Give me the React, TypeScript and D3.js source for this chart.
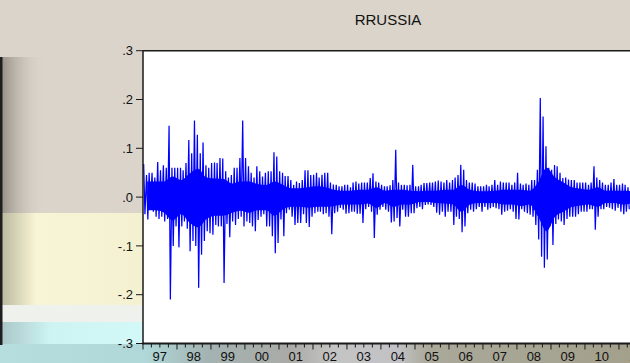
import * as d3 from "d3";

const title = "RRUSSIA";
const startYear = 1997;

// monthly extremes of the daily return series (Jan 1997 .. Apr 2011)
const highs = [
  0.068, 0.045, 0.05, 0.05, 0.04, 0.072, 0.055, 0.065, 0.06, 0.146, 0.06, 0.06, // 1997
  0.06, 0.06, 0.055, 0.07, 0.117, 0.09, 0.157, 0.128, 0.09, 0.112, 0.065, 0.06, // 1998
  0.07, 0.071, 0.07, 0.08, 0.079, 0.053, 0.04, 0.045, 0.06, 0.06, 0.08, 0.157, // 1999
  0.08, 0.063, 0.05, 0.04, 0.063, 0.053, 0.042, 0.05, 0.053, 0.053, 0.092, 0.083, // 2000
  0.053, 0.05, 0.043, 0.043, 0.035, 0.025, 0.032, 0.029, 0.035, 0.055, 0.055, 0.045, // 2001
  0.046, 0.05, 0.04, 0.046, 0.05, 0.05, 0.03, 0.026, 0.025, 0.022, 0.022, 0.025, // 2002
  0.025, 0.02, 0.03, 0.032, 0.028, 0.03, 0.03, 0.03, 0.039, 0.049, 0.032, 0.03, // 2003
  0.025, 0.022, 0.022, 0.024, 0.035, 0.097, 0.03, 0.025, 0.025, 0.024, 0.025, 0.066, // 2004
  0.022, 0.022, 0.025, 0.029, 0.029, 0.03, 0.03, 0.032, 0.034, 0.032, 0.03, 0.035, // 2005
  0.03, 0.035, 0.04, 0.045, 0.066, 0.056, 0.035, 0.03, 0.03, 0.028, 0.022, 0.022, // 2006
  0.022, 0.025, 0.022, 0.025, 0.035, 0.025, 0.032, 0.03, 0.03, 0.03, 0.025, 0.03, // 2007
  0.05, 0.028, 0.025, 0.028, 0.025, 0.035, 0.035, 0.056, 0.203, 0.165, 0.104, 0.06, // 2008
  0.056, 0.066, 0.063, 0.05, 0.039, 0.04, 0.036, 0.035, 0.035, 0.03, 0.03, 0.03, // 2009
  0.03, 0.025, 0.03, 0.063, 0.04, 0.035, 0.03, 0.025, 0.025, 0.03, 0.037, 0.025, // 2010
  0.025, 0.028, 0.025, 0.02, // 2011
];

const lows = [
  -0.035, -0.046, -0.025, -0.03, -0.04, -0.045, -0.04, -0.05, -0.045, -0.21, -0.1, -0.06,
  -0.103, -0.06, -0.05, -0.065, -0.111, -0.09, -0.1, -0.186, -0.118, -0.09, -0.07, -0.074,
  -0.077, -0.057, -0.06, -0.06, -0.176, -0.055, -0.082, -0.05, -0.057, -0.045, -0.04, -0.06,
  -0.05, -0.053, -0.06, -0.07, -0.047, -0.04, -0.035, -0.06, -0.06, -0.08, -0.115, -0.094,
  -0.046, -0.08, -0.033, -0.026, -0.04, -0.057, -0.053, -0.053, -0.035, -0.053, -0.061, -0.04,
  -0.033, -0.03, -0.03, -0.035, -0.033, -0.04, -0.076, -0.033, -0.03, -0.022, -0.026, -0.034,
  -0.033, -0.03, -0.03, -0.034, -0.034, -0.053, -0.025, -0.02, -0.03, -0.084, -0.036, -0.026,
  -0.02, -0.026, -0.03, -0.052, -0.05, -0.043, -0.06, -0.026, -0.04, -0.04, -0.033, -0.033,
  -0.023, -0.02, -0.025, -0.016, -0.015, -0.016, -0.02, -0.032, -0.036, -0.03, -0.04, -0.03,
  -0.03, -0.057, -0.04, -0.045, -0.072, -0.06, -0.033, -0.026, -0.03, -0.025, -0.02, -0.03,
  -0.02, -0.026, -0.023, -0.02, -0.023, -0.025, -0.036, -0.03, -0.028, -0.025, -0.03, -0.045,
  -0.046, -0.025, -0.03, -0.033, -0.036, -0.04, -0.057, -0.087, -0.122, -0.145, -0.128, -0.06,
  -0.098, -0.055, -0.046, -0.05, -0.057, -0.045, -0.04, -0.04, -0.04, -0.035, -0.03, -0.03,
  -0.03, -0.025, -0.025, -0.067, -0.04, -0.025, -0.025, -0.02, -0.022, -0.025, -0.028, -0.022,
  -0.03, -0.035, -0.03, -0.025,
];

// dense, solid part of the trace per quarter (1997Q1 .. 2011Q2)
const coreHigh = [
  0.032, 0.032, 0.032, 0.042,
  0.035, 0.048, 0.058, 0.04,
  0.038, 0.037, 0.028, 0.032,
  0.032, 0.027, 0.025, 0.032,
  0.025, 0.018, 0.018, 0.02,
  0.022, 0.02, 0.015, 0.013,
  0.013, 0.015, 0.015, 0.02,
  0.013, 0.015, 0.015, 0.013,
  0.012, 0.013, 0.013, 0.015,
  0.015, 0.025, 0.015, 0.012,
  0.012, 0.013, 0.015, 0.015,
  0.015, 0.013, 0.03, 0.06,
  0.04, 0.03, 0.02, 0.017,
  0.015, 0.02, 0.013, 0.013,
  0.013, 0.012,
];
const coreLow = [
  -0.027, -0.027, -0.032, -0.048,
  -0.035, -0.052, -0.062, -0.045,
  -0.038, -0.038, -0.032, -0.028,
  -0.032, -0.027, -0.027, -0.038,
  -0.025, -0.02, -0.02, -0.022,
  -0.02, -0.02, -0.018, -0.015,
  -0.015, -0.015, -0.013, -0.022,
  -0.012, -0.02, -0.015, -0.015,
  -0.01, -0.01, -0.012, -0.013,
  -0.015, -0.03, -0.015, -0.012,
  -0.012, -0.012, -0.015, -0.015,
  -0.018, -0.015, -0.04, -0.07,
  -0.04, -0.03, -0.02, -0.017,
  -0.015, -0.02, -0.012, -0.012,
  -0.015, -0.013,
];

const yTicks = [0.3, 0.2, 0.1, 0, -0.1, -0.2, -0.3];
const yTickLabels = [".3", ".2", ".1", ".0", "-.1", "-.2", "-.3"];
const yearLabels = ["97", "98", "99", "00", "01", "02", "03", "04", "05", "06", "07", "08", "09", "10", "11"];

const font = "Arial, 'Liberation Sans', sans-serif";

export default function App() {
  const width = 630;
  const height = 363;
  const left = 143;
  const right = 633;
  const top = 50.7;
  const bottom = 343.5;

  const x = d3
    .scaleTime()
    .domain([new Date(1997, 0, 1), new Date(2011, 5, 1)])
    .range([left, right]);
  const y = d3.scaleLinear().domain([-0.3, 0.3]).range([bottom, top]);

  // each month: high early in the month, low later on
  const points: [Date, number][] = [];
  highs.forEach((h, i) => {
    const yr = startYear + Math.floor(i / 12);
    const mo = i % 12;
    points.push([new Date(yr, mo, 8), h]);
    points.push([new Date(yr, mo, 22), lows[i]]);
  });
  const line = d3
    .line<[Date, number]>()
    .x((d) => x(d[0]))
    .y((d) => y(d[1]));

  const core = coreHigh.map((h, i) => ({
    date: new Date(startYear + Math.floor(i / 4), (i % 4) * 3 + 1, 15),
    hi: h,
    lo: coreLow[i],
  }));
  const band = d3
    .area<{ date: Date; hi: number; lo: number }>()
    .x((d) => x(d.date))
    .y0((d) => y(d.lo))
    .y1((d) => y(d.hi))
    .curve(d3.curveMonotoneX);

  const quarters: Date[] = [];
  for (let yr = 1997; yr <= 2011; yr++) {
    for (let q = 0; q < 4; q++) quarters.push(new Date(yr, q * 3, 1));
  }

  return (
    <svg
      width={width}
      height={height}
      style={{ position: "absolute", left: 0, top: 0, display: "block" }}
    >
      <defs>
        <linearGradient id="shade" x1="0" x2="1" y1="0" y2="0">
          <stop offset="0" stopColor="#7f7870" stopOpacity="0.8" />
          <stop offset="1" stopColor="#d9d3c9" stopOpacity="0" />
        </linearGradient>
        <linearGradient id="yellow" x1="0" x2="1" y1="0" y2="0">
          <stop offset="0" stopColor="#b9b79c" />
          <stop offset="0.25" stopColor="#f7f5d5" />
          <stop offset="1" stopColor="#f3f1d0" />
        </linearGradient>
        <linearGradient id="cyan" x1="0" x2="1" y1="0" y2="0">
          <stop offset="0" stopColor="#a9c6c6" />
          <stop offset="0.35" stopColor="#cdf3f3" />
          <stop offset="1" stopColor="#d3f8f8" />
        </linearGradient>
        <linearGradient id="strip" x1="0" x2="630" y1="0" y2="0" gradientUnits="userSpaceOnUse">
          <stop offset="0" stopColor="#b7dede" />
          <stop offset="0.23" stopColor="#b0d8d8" />
          <stop offset="0.33" stopColor="#a3b3b2" />
          <stop offset="0.46" stopColor="#aaaaa6" />
          <stop offset="0.53" stopColor="#c4c4c4" />
          <stop offset="0.63" stopColor="#c2c2c6" />
          <stop offset="0.68" stopColor="#aaa99a" />
          <stop offset="1" stopColor="#a3a08c" />
        </linearGradient>
        <clipPath id="plot">
          <rect x={left} y={top} width={right - left} height={bottom - top} />
        </clipPath>
      </defs>

      {/* background */}
      <rect x={0} y={0} width={width} height={height} fill="#dad4ca" />
      <rect x={0} y={57} width={45} height={157} fill="url(#shade)" />
      <rect x={0} y={213} width={left} height={93} fill="url(#yellow)" />
      <rect x={0} y={305} width={left} height={18} fill="#eff1ec" />
      <rect x={0} y={322} width={left} height={41} fill="url(#cyan)" />
      <rect x={0} y={344} width={width} height={19} fill="url(#strip)" />
      <rect x={0} y={57} width={2.5} height={288} fill="#1f1f1f" />

      {/* plot area */}
      <rect x={left} y={top} width={right - left} height={bottom - top} fill="#ffffff" />

      <text x={388} y={25} textAnchor="middle" fontFamily={font} fontSize={15} fill="#111">
        {title}
      </text>

      <g clipPath="url(#plot)">
        <path d={band(core) ?? ""} fill="#0000ff" />
        <path d={line(points) ?? ""} fill="none" stroke="#0000ff" strokeWidth={1.25} />
      </g>

      {/* frame */}
      <line x1={left} x2={right} y1={top} y2={top} stroke="#1a1a1a" strokeWidth={1.5} />
      <line x1={left} x2={left} y1={top} y2={bottom} stroke="#1a1a1a" strokeWidth={1.5} />
      <line x1={left - 1} x2={right} y1={bottom} y2={bottom} stroke="#1a1a1a" strokeWidth={2} />

      {/* y axis */}
      {yTicks.map((t, i) => (
        <g key={t}>
          <line x1={left - 7} x2={left} y1={y(t)} y2={y(t)} stroke="#1a1a1a" strokeWidth={1} />
          <text
            x={133}
            y={y(t)}
            dy="0.36em"
            textAnchor="end"
            fontFamily={font}
            fontSize={13}
            fill="#111"
          >
            {yTickLabels[i]}
          </text>
        </g>
      ))}

      {/* x axis */}
      {quarters.map((d) => (
        <line
          key={d.getTime()}
          x1={x(d)}
          x2={x(d)}
          y1={bottom}
          y2={bottom + (d.getMonth() === 0 ? 6 : 4)}
          stroke="#1a1a1a"
          strokeWidth={1}
        />
      ))}
      {yearLabels.map((lab, i) => (
        <text
          key={lab}
          x={x(new Date(startYear + i, 6, 1))}
          y={361}
          textAnchor="middle"
          fontFamily={font}
          fontSize={13}
          fill="#111"
        >
          {lab}
        </text>
      ))}
    </svg>
  );
}
